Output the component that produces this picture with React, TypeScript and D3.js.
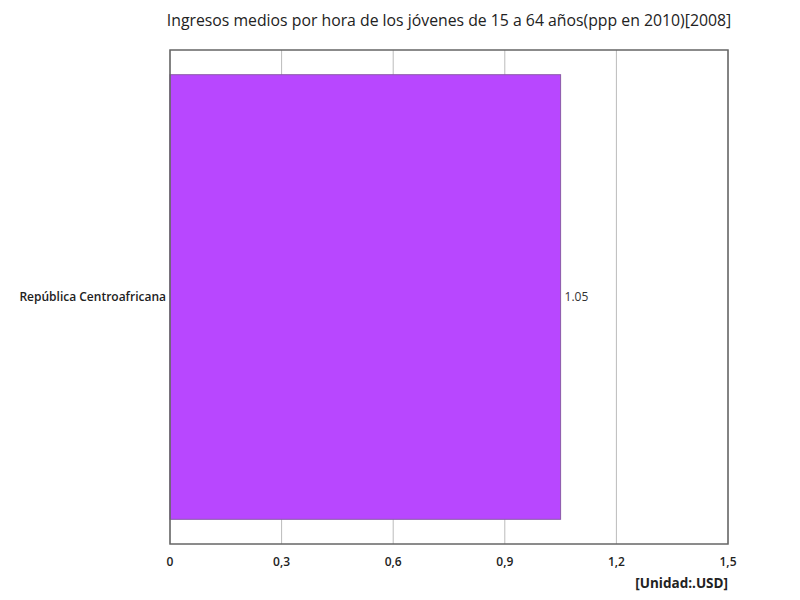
import React from "react";
import * as d3 from "d3";

const categories = ["República Centroafricana"];
const values = [1.05];
const xTicks = [0, 0.3, 0.6, 0.9, 1.2, 1.5];
const title = "Ingresos medios por hora de los jóvenes de 15 a 64 años(ppp en 2010)[2008]";
const unitLabel = "[Unidad:.USD]";

export default function App() {
  const W = 800, H = 600;
  const m = { left: 170, right: 72, top: 50, bottom: 56 };
  const x = d3.scaleLinear().domain([0, 1.5]).range([m.left, W - m.right]);
  const y = d3.scaleBand<string>().domain(categories).range([m.top, H - m.bottom]).paddingInner(0.1).paddingOuter(0.05);
  const font = "'Open Sans', 'Noto Sans', sans-serif";
  const fmt = (v: number) => String(v).replace(".", ",");
  return (
    <svg width={W} height={H} style={{ position: "absolute", left: 0, top: 0 }} fontFamily={font}>
      <rect x={0} y={0} width={W} height={H} fill="#fff" />
      <text x={449} y={26} textAnchor="middle" fontSize={15.8} fill="#222">{title}</text>
      {xTicks.map((t) => (
        <line key={"g" + t} x1={x(t)} x2={x(t)} y1={m.top} y2={H - m.bottom} stroke="#bbb" strokeWidth={1} />
      ))}
      {categories.map((c, i) => (
        <g key={c}>
          <rect x={x(0)} y={y(c)!} width={x(values[i]) - x(0)} height={y.bandwidth()} fill="#b847ff" stroke="#8a5aa8" strokeWidth={1} />
          <text x={x(values[i]) + 4} y={y(c)! + y.bandwidth() / 2} dy="0.35em" fontSize={12} fill="#333">{values[i].toFixed(2)}</text>
          <text x={m.left - 4} y={y(c)! + y.bandwidth() / 2} dy="0.35em" fontSize={12} fontWeight={600} textAnchor="end" fill="#222">{c}</text>
        </g>
      ))}
      <rect x={m.left} y={m.top} width={W - m.left - m.right} height={H - m.top - m.bottom} fill="none" stroke="#666" strokeWidth={1.5} />
      {xTicks.map((t) => (
        <text key={"t" + t} x={x(t)} y={566} textAnchor="middle" fontSize={12} fontWeight={600} fill="#222">{fmt(t)}</text>
      ))}
      <text x={W - m.right} y={588} textAnchor="end" fontSize={13.5} fontWeight={700} fill="#222">{unitLabel}</text>
    </svg>
  );
}
